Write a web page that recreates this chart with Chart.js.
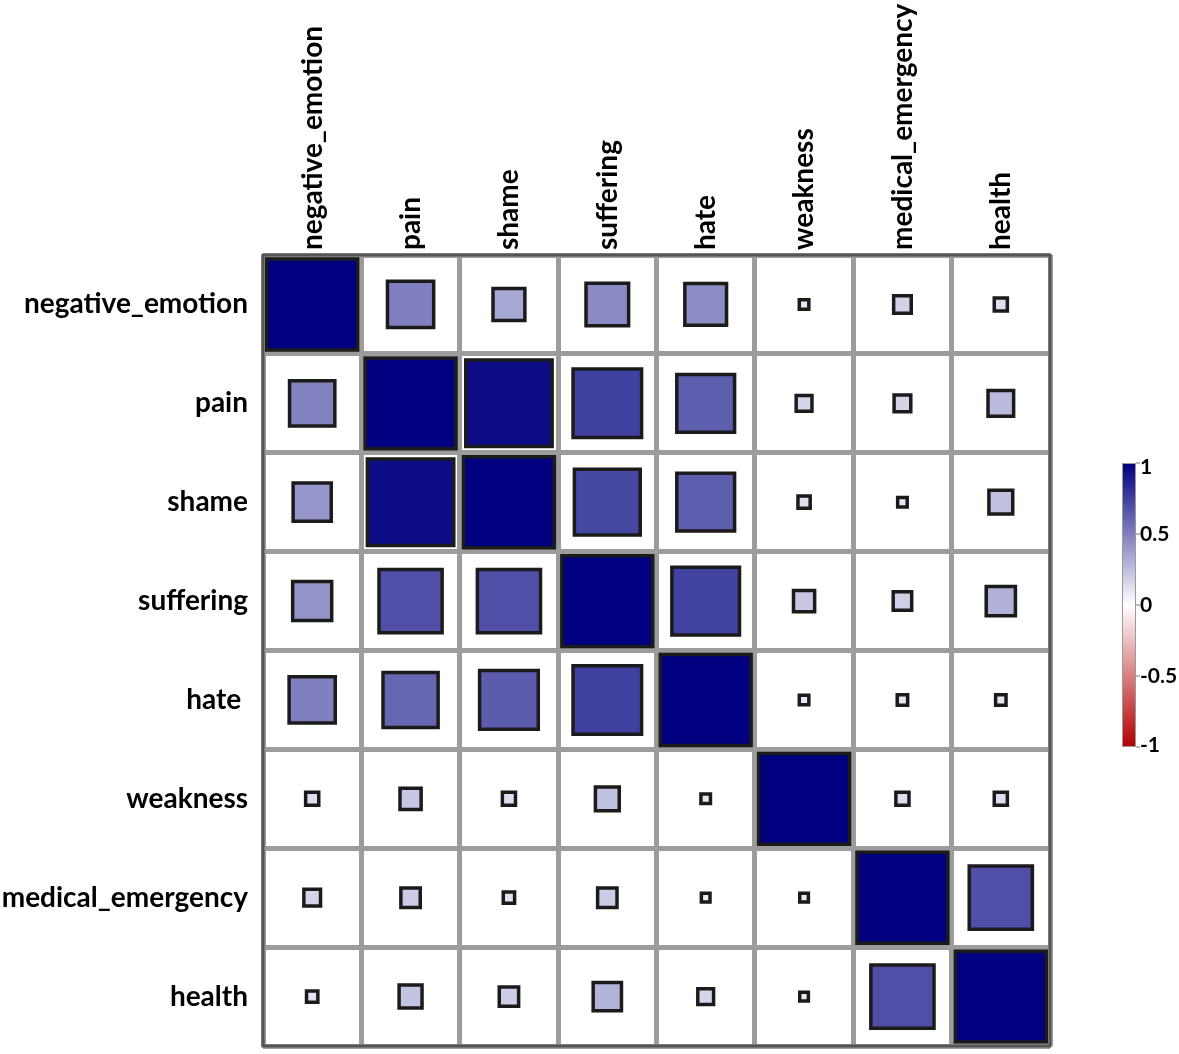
<!DOCTYPE html>
<html><head><meta charset="utf-8">
<script src="https://cdn.jsdelivr.net/npm/chart.js@4.4.1/dist/chart.umd.min.js"></script>
<style>html,body{margin:0;padding:0;background:#fff;}</style>
</head><body>
<canvas id="c" width="1179" height="1054"></canvas>
<script>
// ---- data ----
const variables = ['negative_emotion','pain','shame','suffering','hate ','weakness','medical_emergency','health'];
const row_negative_emotion  = [1.00, 0.50, 0.34, 0.46, 0.45, 0.09, 0.18, 0.13];
const row_pain              = [0.49, 1.00, 0.95, 0.75, 0.63, 0.16, 0.17, 0.27];
const row_shame             = [0.41, 0.95, 1.00, 0.72, 0.63, 0.12, 0.09, 0.25];
const row_suffering         = [0.42, 0.69, 0.69, 1.00, 0.74, 0.22, 0.19, 0.31];
const row_hate              = [0.50, 0.60, 0.64, 0.75, 1.00, 0.09, 0.10, 0.10];
const row_weakness          = [0.13, 0.22, 0.13, 0.25, 0.09, 1.00, 0.13, 0.13];
const row_medical_emergency = [0.17, 0.20, 0.11, 0.20, 0.08, 0.08, 1.00, 0.69];
const row_health            = [0.11, 0.24, 0.20, 0.30, 0.16, 0.08, 0.69, 1.00];
const colorbarTicks = [1, 0.5, 0, -0.5, -1];
const colorbarTickLabels = ['1', '0.5', '0', '-0.5', '-1'];

const rows = [row_negative_emotion, row_pain, row_shame, row_suffering, row_hate, row_weakness, row_medical_emergency, row_health];

const points = [];
rows.forEach((row, i) => row.forEach((v, j) => points.push({x: variables[j], y: variables[i], v: v})));

const NAVY = [0, 0, 128], WHITE = [255, 255, 255], RED = [178, 0, 0];
function colorFor(v) {
  const t = Math.min(1, Math.abs(v));
  const end = v >= 0 ? NAVY : RED;
  const c = WHITE.map((w, k) => Math.round(w + (end[k] - w) * t));
  return `rgb(${c[0]},${c[1]},${c[2]})`;
}
const FONT = 'Lato, "Open Sans", sans-serif';
const BW = 3.5;

function squareRadius(ctx) {
  if (!ctx.raw) return 0;
  const xs = ctx.chart.scales.x;
  const cell = xs.width / variables.length;
  const outer = Math.abs(ctx.raw.v) * (cell - 9) + 5;
  return (outer - BW) / Math.SQRT2;
}

const frame = {
  id: 'frame',
  afterDatasetsDraw(chart) {
    const {ctx, chartArea: a} = chart;
    ctx.save();
    ctx.strokeStyle = '#555';
    ctx.lineWidth = 3;
    ctx.strokeRect(a.left, a.top, a.right - a.left, a.bottom - a.top);
    ctx.restore();
  }
};

const colorbar = {
  id: 'colorbar',
  afterDraw(chart) {
    const {ctx} = chart;
    const x0 = 1122, w = 14, top = 463, bottom = 747;
    ctx.save();
    const g = ctx.createLinearGradient(0, top, 0, bottom);
    g.addColorStop(0, colorFor(1));
    g.addColorStop(0.5, colorFor(0));
    g.addColorStop(1, colorFor(-1));
    ctx.fillStyle = g;
    ctx.fillRect(x0, top, w, bottom - top);
    ctx.strokeStyle = '#9a9a9a';
    ctx.lineWidth = 1;
    ctx.strokeRect(x0 + 0.5, top + 0.5, w - 1, bottom - top - 1);
    ctx.fillStyle = '#000';
    ctx.font = 'bold 21px ' + FONT;
    ctx.textAlign = 'left';
    ctx.textBaseline = 'middle';
    colorbarTicks.forEach((v, k) => {
      const y = top + (1 - v) / 2 * (bottom - top);
      ctx.strokeStyle = '#777';
      ctx.beginPath(); ctx.moveTo(x0 + w, y); ctx.lineTo(x0 + w + 4, y); ctx.stroke();
      ctx.fillText(colorbarTickLabels[k], x0 + w + 4, Math.min(Math.max(y, top + 4), bottom - 2));
    });
    ctx.restore();
  }
};

new Chart(document.getElementById('c'), {
  type: 'scatter',
  data: {
    datasets: [{
      data: points,
      pointStyle: 'rect',
      pointRadius: squareRadius,
      pointHoverRadius: squareRadius,
      pointBackgroundColor: (ctx) => ctx.raw ? colorFor(ctx.raw.v) : '#fff',
      pointBorderColor: '#1b1b1b',
      pointBorderWidth: BW,
      pointHoverBorderWidth: BW
    }]
  },
  options: {
    responsive: false,
    animation: false,
    events: [],
    layout: {padding: {left: 0, top: 0, right: 129, bottom: 8}},
    plugins: {legend: {display: false}, tooltip: {enabled: false}},
    scales: {
      x: {
        type: 'category',
        labels: variables,
        position: 'top',
        offset: true,
        grid: {offset: true, color: '#9c9c9c', lineWidth: 5, drawTicks: false},
        border: {display: false},
        ticks: {minRotation: 90, maxRotation: 90, padding: 5, labelOffset: 34, color: '#000', font: {family: FONT, size: 28, weight: 'bold'}},
        afterFit: (s) => { s.height = 255; s.paddingLeft = 0; s.paddingRight = 0; }
      },
      y: {
        type: 'category',
        labels: variables,
        offset: true,
        grid: {offset: true, color: '#9c9c9c', lineWidth: 5, drawTicks: false},
        border: {display: false},
        ticks: {padding: 15, color: '#000', font: {family: FONT, size: 28, weight: 'bold'}},
        afterFit: (s) => { s.width = 263; s.paddingTop = 0; s.paddingBottom = 0; }
      }
    }
  },
  plugins: [frame, colorbar]
});
</script>
</body></html>
